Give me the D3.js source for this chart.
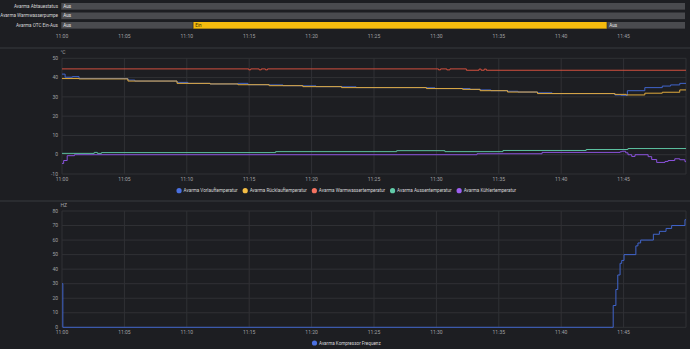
<!DOCTYPE html>
<html>
<head>
<meta charset="utf-8">
<script src="https://cdn.jsdelivr.net/npm/d3@7"></script>
<style>
  html, body { margin: 0; padding: 0; background: #1d1e22; }
  svg { display: block; font-family: Roboto, "Noto Sans", sans-serif; }
</style>
</head>
<body>
<div id="chart"></div>
<script>
// ---- data ----
const timelineRows = ["Avarma Abtauestatus", "Avarma Warmwasserpumpe", "Avarma OTC Ein-Aus"];
const timelineStates = [
  [["11:00:00", "11:50:00", "Aus"]],
  [["11:00:00", "11:50:00", "Aus"]],
  [["11:00:00", "11:10:35", "Aus"], ["11:10:35", "11:43:45", "Ein"], ["11:43:45", "11:50:00", "Aus"]]
];
const timeTicks = ["11:00", "11:05", "11:10", "11:15", "11:20", "11:25", "11:30", "11:35", "11:40", "11:45"];

const tempNames = ["Avarma Vorlauftemperatur", "Avarma Rücklauftemperatur", "Avarma Warmwassertemperatur",
                   "Avarma Aussentemperatur", "Avarma Kühlertemperatur"];
const tempTicks = [-10, 0, 10, 20, 30, 40, 50];

const vorlauf = [
  ["11:00:00", 41.8], ["11:00:15", 40.2], ["11:00:50", 40.5], ["11:01:22", 39.5],
  ["11:05:17", 38.7], ["11:05:50", 38.2], ["11:09:13", 37.5], ["11:10:05", 37.0],
  ["11:11:52", 36.7], ["11:14:06", 37.0], ["11:14:54", 36.3], ["11:16:36", 36.2],
  ["11:17:42", 35.8], ["11:19:18", 35.7], ["11:20:21", 35.3], ["11:22:24", 35.2],
  ["11:23:34", 34.8], ["11:29:12", 34.7], ["11:29:53", 34.3], ["11:32:06", 34.3],
  ["11:32:42", 33.9], ["11:33:30", 33.6], ["11:34:22", 33.2], ["11:35:42", 32.9],
  ["11:36:32", 32.5], ["11:38:06", 32.1], ["11:39:16", 31.7], ["11:44:18", 31.0],
  ["11:44:48", 30.8], ["11:45:18", 33.2], ["11:46:42", 34.8], ["11:48:06", 35.6],
  ["11:48:46", 36.2], ["11:49:30", 37.0], ["11:50:00", 37.0]
];
const ruecklauf = [
  ["11:00:00", 39.5], ["11:01:22", 39.3], ["11:05:17", 38.2], ["11:09:13", 37.0],
  ["11:11:52", 36.7], ["11:14:06", 36.3], ["11:16:36", 35.8], ["11:19:18", 35.3],
  ["11:22:24", 34.8], ["11:29:12", 34.3], ["11:32:06", 33.9], ["11:33:30", 33.2],
  ["11:35:42", 32.5], ["11:38:06", 31.7], ["11:44:18", 31.3], ["11:45:12", 31.0],
  ["11:46:42", 31.9], ["11:48:06", 32.4], ["11:49:30", 33.6], ["11:50:00", 33.6]
];
const warmwasser = [
  ["11:00:00", 44.5], ["11:14:58", 44.0], ["11:15:07", 44.5], ["11:15:48", 44.0],
  ["11:15:58", 44.5], ["11:16:18", 44.0], ["11:16:28", 44.5], ["11:30:10", 44.0],
  ["11:30:20", 44.5], ["11:30:50", 44.0], ["11:31:05", 44.5], ["11:32:24", 43.8],
  ["11:33:25", 44.4], ["11:33:35", 43.8], ["11:33:50", 44.4], ["11:34:00", 43.8],
  ["11:50:00", 43.8]
];
const aussen = [
  ["11:00:00", 0.7], ["11:02:35", 1.2], ["11:02:50", 0.7], ["11:03:10", 1.1],
  ["11:17:07", 1.6], ["11:26:49", 2.1], ["11:30:41", 1.6], ["11:35:20", 2.2],
  ["11:42:00", 2.7], ["11:45:21", 3.2], ["11:50:00", 3.2]
];
const kuehler = [
  ["11:00:00", -4.5], ["11:00:08", -3.0], ["11:00:25", -0.5], ["11:01:00", 0.0],
  ["11:33:15", 0.5], ["11:38:28", 1.2], ["11:44:43", 1.5], ["11:44:51", 1.8],
  ["11:45:10", 1.0], ["11:45:21", 0.0], ["11:45:39", -0.9], ["11:45:55", 0.0],
  ["11:46:58", -1.0], ["11:47:15", -2.5], ["11:47:39", -4.0], ["11:48:19", -3.5],
  ["11:48:34", -3.0], ["11:49:06", -2.1], ["11:49:30", -2.6], ["11:49:55", -3.6],
  ["11:50:00", -3.6]
];

const freqName = "Avarma Kompressor Frequenz";
const freqTicks = [0, 10, 20, 30, 40, 50, 60, 70, 80];
const frequenz = [
  ["11:00:00", 30], ["11:00:04", 0], ["11:44:10", 15], ["11:44:23", 26],
  ["11:44:32", 36], ["11:44:43", 44], ["11:44:51", 46], ["11:45:02", 50],
  ["11:45:59", 56], ["11:46:09", 58], ["11:46:22", 60], ["11:47:23", 64],
  ["11:47:52", 66], ["11:48:24", 68], ["11:48:51", 70], ["11:49:55", 74],
  ["11:50:00", 74]
];

// ---- setup ----
const W = 690, H = 349;
const parse = s => {
  const p = s.split(":").map(Number);
  return new Date(2024, 0, 15, p[0], p[1], p[2] || 0);
};

const lineColors = ["#4065cc", "#e0aa3c", "#d2503f", "#5cc0a0", "#8a52dc"];
const dotColors  = ["#4a70e0", "#f3bd45", "#f47260", "#62cba8", "#9d60f0"];
const gridColor = "#303135";
const tickColor = "#a0a0a3";
const labelColor = "#d6d6d8";

const svg = d3.select("#chart").append("svg")
  .attr("width", W).attr("height", H);

const x = d3.scaleTime()
  .domain([parse("11:00:00"), parse("11:50:00")])
  .range([62, 686]);

// separators between the cards
svg.selectAll("line.sep")
  .data([48, 201])
  .join("line")
  .attr("class", "sep")
  .attr("x1", 0).attr("x2", W)
  .attr("y1", d => d).attr("y2", d => d)
  .attr("stroke", "#393a3e").attr("stroke-width", 1);

// ---- timeline ----
const rowY = d3.scaleBand()
  .domain(timelineRows)
  .range([3, 28.65])
  .paddingInner(0.3);

const tl = svg.append("g");
timelineRows.forEach((row, i) => {
  tl.append("text")
    .attr("x", 58)
    .attr("y", rowY(row) + rowY.bandwidth() / 2 + 1.6)
    .attr("text-anchor", "end")
    .style("font-size", "4.6px")
    .style("fill", labelColor)
    .text(row);

  const seg = tl.append("g").selectAll("g")
    .data(timelineStates[i])
    .join("g");
  seg.append("rect")
    .attr("x", d => x(parse(d[0])) - 1)
    .attr("y", rowY(row))
    .attr("width", d => x(parse(d[1])) - x(parse(d[0])))
    .attr("height", rowY.bandwidth())
    .attr("fill", d => d[2] === "Ein" ? "#f5bb0e" : "#4a4b4f");
  seg.append("line")
    .attr("x1", d => x(parse(d[0])) - 1)
    .attr("x2", d => x(parse(d[0])) - 1)
    .attr("y1", rowY(row)).attr("y2", rowY(row) + rowY.bandwidth())
    .attr("stroke", "#1d1e22").attr("stroke-width", 0.6);
  seg.append("text")
    .attr("x", d => x(parse(d[0])) + 1.2)
    .attr("y", rowY(row) + rowY.bandwidth() / 2 + 1.6)
    .style("font-size", "4.6px")
    .style("fill", d => d[2] === "Ein" ? "#3a2e00" : "#e8e8ea")
    .text(d => d[2]);
});

tl.append("g").selectAll("text")
  .data(timeTicks)
  .join("text")
  .attr("x", d => x(parse(d)))
  .attr("y", 37.6)
  .attr("text-anchor", "middle")
  .style("font-size", "5px")
  .style("fill", tickColor)
  .text(d => d);

// ---- generic line chart ----
function drawChart(cfg) {
  const y = d3.scaleLinear().domain(cfg.domain).range(cfg.range);
  const g = svg.append("g");

  // horizontal grid + y labels
  g.selectAll("line.h")
    .data(cfg.yTicks)
    .join("line")
    .attr("x1", x.range()[0]).attr("x2", x.range()[1])
    .attr("y1", d => y(d)).attr("y2", d => y(d))
    .attr("stroke", gridColor).attr("stroke-width", 1);
  g.selectAll("text.yl")
    .data(cfg.yTicks)
    .join("text")
    .attr("x", 58)
    .attr("y", d => y(d) + 1.7)
    .attr("text-anchor", "end")
    .style("font-size", "5px")
    .style("fill", tickColor)
    .text(d => d);

  // vertical grid + x labels
  g.selectAll("line.v")
    .data(timeTicks.concat(["11:50"]))
    .join("line")
    .attr("x1", d => x(parse(d))).attr("x2", d => x(parse(d)))
    .attr("y1", cfg.range[1]).attr("y2", cfg.range[0])
    .attr("stroke", gridColor).attr("stroke-width", 1);
  g.selectAll("text.xl")
    .data(timeTicks)
    .join("text")
    .attr("x", d => x(parse(d)))
    .attr("y", cfg.range[0] + 7)
    .attr("text-anchor", "middle")
    .style("font-size", "5px")
    .style("fill", tickColor)
    .text(d => d);

  // unit
  g.append("text")
    .attr("x", 60.5)
    .attr("y", cfg.range[1] - 4)
    .style("font-size", "5px")
    .style("fill", tickColor)
    .text(cfg.unit);

  const line = d3.line()
    .x(d => x(parse(d[0])))
    .y(d => y(d[1]))
    .curve(d3.curveStepAfter);

  cfg.series.forEach((s, i) => {
    g.append("path")
      .datum(s)
      .attr("fill", "none")
      .attr("stroke", cfg.lineColors[i])
      .attr("stroke-width", 1)
      .attr("d", line);
  });

  // legend, centred
  const leg = g.append("g");
  const items = leg.selectAll("g")
    .data(cfg.names)
    .join("g");
  items.append("circle")
    .attr("r", 2.6)
    .attr("fill", (d, i) => cfg.dotColors[i]);
  items.append("text")
    .attr("x", 4.5)
    .attr("y", 1.6)
    .style("font-size", "4.6px")
    .style("fill", labelColor)
    .text(d => d);
  let pos = 0;
  const offs = [];
  items.each(function() {
    offs.push(pos);
    pos += this.querySelector("text").getComputedTextLength() + 4.5 + 7.5;
  });
  const total = pos - 7.5;
  const start = 345 - total / 2 + 2.6;
  items.attr("transform", (d, i) => `translate(${start + offs[i]},${cfg.legendY})`);
}

drawChart({
  domain: [-10, 50], range: [174, 58.3], yTicks: tempTicks, unit: "°C",
  series: [vorlauf, ruecklauf, warmwasser, aussen, kuehler],
  names: tempNames, lineColors: lineColors, dotColors: dotColors, legendY: 190.7
});

drawChart({
  domain: [0, 80], range: [327.3, 211], yTicks: freqTicks, unit: "HZ",
  series: [frequenz],
  names: [freqName], lineColors: [lineColors[0]], dotColors: [dotColors[0]], legendY: 343
});
</script>
</body>
</html>
